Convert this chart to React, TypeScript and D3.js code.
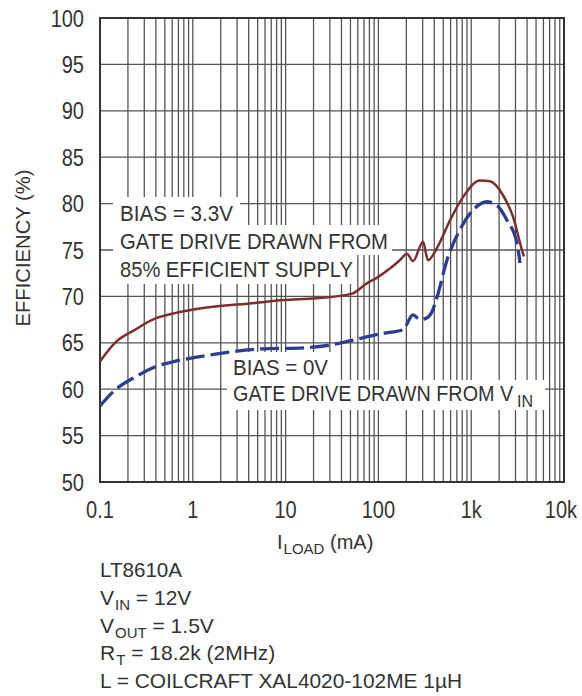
import React from "react";
import * as d3 from "d3";

// ---- data ----
const xTickValues = [0.1, 1, 10, 100, 1000, 10000];
const xTickLabels = ["0.1", "1", "10", "100", "1k", "10k"];
const yTickValues = [50, 55, 60, 65, 70, 75, 80, 85, 90, 95, 100];

// BIAS = 3.3V (solid red)
const biasCurrent = [0.1, 0.145, 0.238, 0.39, 0.64, 1.19, 4.7, 9.4, 21.5, 52, 75, 96, 133, 170, 203, 236, 303, 342, 437, 591, 816, 1245, 1595, 2203, 2820, 3525, 3700];
const biasEff = [63.0, 65.0, 66.4, 67.6, 68.2, 68.7, 69.3, 69.6, 69.8, 70.3, 71.4, 72.0, 73.0, 73.9, 74.6, 73.8, 75.9, 73.9, 75.4, 78.2, 80.7, 82.5, 82.4, 80.9, 78.6, 75.0, 74.3];

// BIAS = 0V (dashed blue)
const zeroCurrent = [0.1, 0.145, 0.238, 0.39, 0.64, 1.19, 4.7, 18.3, 32, 49, 110, 184, 236, 281, 334, 380, 428, 548, 757, 1045, 1479, 1896, 2431, 3117, 3357];
const zeroEff = [58.2, 59.9, 61.3, 62.4, 63.0, 63.5, 64.3, 64.5, 64.8, 65.2, 66.0, 66.4, 68.0, 67.5, 67.7, 68.4, 69.9, 73.9, 77.2, 79.3, 80.2, 79.8, 78.2, 75.7, 73.6];

const W = 582;
const H = 696;
const M = { left: 100, top: 18, right: 564, bottom: 482 };
const FONT = "'Liberation Sans', Arial, Helvetica, sans-serif";
const TXT = "#333";

export default function App() {
  const x = d3.scaleLog().domain([0.1, 10000]).range([M.left, M.right]);
  const y = d3.scaleLinear().domain([50, 100]).range([M.bottom, M.top]);

  const minor: number[] = [];
  for (let d = -1; d < 4; d++) {
    for (let k = 1; k < 10; k++) minor.push(k * Math.pow(10, d));
  }
  minor.push(10000);

  const line = d3
    .line<[number, number]>()
    .x((d) => x(d[0]))
    .y((d) => y(d[1]))
    .curve(d3.curveMonotoneX);

  const biasPath = line(biasCurrent.map((c, i) => [c, biasEff[i]]) as [number, number][]) || "";
  const zeroPath = line(zeroCurrent.map((c, i) => [c, zeroEff[i]]) as [number, number][]) || "";

  const sx = 0.87;

  return (
    <svg
      width={W}
      height={H}
      style={{ position: "absolute", left: 0, top: 0, background: "#fff" }}
      fontFamily={FONT}
    >
      <rect x={0} y={0} width={W} height={H} fill="#fff" />
      {/* grid */}
      <g stroke="#555" strokeWidth={1.3}>
        {minor.map((v, i) => (
          <line key={"v" + i} x1={x(v)} x2={x(v)} y1={M.top} y2={M.bottom} />
        ))}
        {yTickValues.map((v) => (
          <line key={"h" + v} x1={M.left} x2={M.right} y1={y(v)} y2={y(v)} />
        ))}
      </g>
      <rect
        x={M.left}
        y={M.top}
        width={M.right - M.left}
        height={M.bottom - M.top}
        fill="none"
        stroke="#333"
        strokeWidth={2}
      />

      {/* annotation masks */}
      <g fill="#fff">
        <rect x={113} y={197} width={127} height={28} />
        <rect x={113} y={225} width={279} height={30} />
        <rect x={113} y={255} width={243} height={29} />
        <rect x={227} y={352} width={108} height={28} />
        <rect x={227} y={380} width={318} height={30} />
      </g>

      {/* annotations */}
      <g fill={TXT} fontSize={22}>
        <text x={120} y={221} textLength={113} lengthAdjust="spacingAndGlyphs">BIAS = 3.3V</text>
        <text x={120} y={249} textLength={268} lengthAdjust="spacingAndGlyphs">GATE DRIVE DRAWN FROM</text>
        <text x={120} y={277} textLength={233} lengthAdjust="spacingAndGlyphs">85% EFFICIENT SUPPLY</text>
        <text x={233} y={375} textLength={95} lengthAdjust="spacingAndGlyphs">BIAS = 0V</text>
        <text transform="translate(233,401) scale(0.9,1)">GATE DRIVE DRAWN FROM V</text>
        <text x={517} y={407} fontSize={16}>IN</text>
      </g>

      {/* curves */}
      <path d={biasPath} fill="none" stroke="#7a2f30" strokeWidth={2.5} strokeLinejoin="round" />
      <path
        d={zeroPath}
        fill="none"
        stroke="#2f3d90"
        strokeWidth={3.3}
        strokeDasharray="19 6"
        strokeLinejoin="round"
      />

      {/* tick labels */}
      <g fill={TXT} fontSize={23}>
        {yTickValues.map((v) => (
          <text key={"yl" + v} textAnchor="end" transform={`translate(84,${y(v) + 8.5}) scale(${sx},1)`}>
            {v}
          </text>
        ))}
        {xTickValues.map((v, i) => (
          <text key={"xl" + v} textAnchor="middle" transform={`translate(${x(v) - (i === 5 ? 3 : 0)},518) scale(${sx},1)`}>
            {xTickLabels[i]}
          </text>
        ))}
      </g>

      {/* axis titles */}
      <text
        fill={TXT}
        fontSize={20}
        textAnchor="middle"
        transform="translate(30,248) rotate(-90)"
        textLength={157}
        lengthAdjust="spacingAndGlyphs"
      >
        EFFICIENCY (%)
      </text>
      <text fill={TXT} fontSize={20} x={277} y={549}>
        I<tspan fontSize={15} dx={1} dy={5}>LOAD</tspan>
        <tspan dy={-5}> (mA)</tspan>
      </text>

      {/* bottom notes */}
      <g fill={TXT} fontSize={21}>
        <text x={100} y={577} textLength={82} lengthAdjust="spacingAndGlyphs">LT8610A</text>
        <text x={100} y={605}>
          V<tspan fontSize={15} dx={1} dy={5}>IN</tspan>
          <tspan dy={-5}> = 12V</tspan>
        </text>
        <text x={100} y={633}>
          V<tspan fontSize={15} dx={1} dy={5}>OUT</tspan>
          <tspan dy={-5}> = 1.5V</tspan>
        </text>
        <text x={100} y={660}>
          R<tspan fontSize={15} dx={1} dy={5}>T</tspan>
          <tspan dy={-5}> = 18.2k (2MHz)</tspan>
        </text>
        <text x={100} y={688} textLength={362} lengthAdjust="spacingAndGlyphs">
          L = COILCRAFT XAL4020-102ME 1µH
        </text>
      </g>
    </svg>
  );
}
